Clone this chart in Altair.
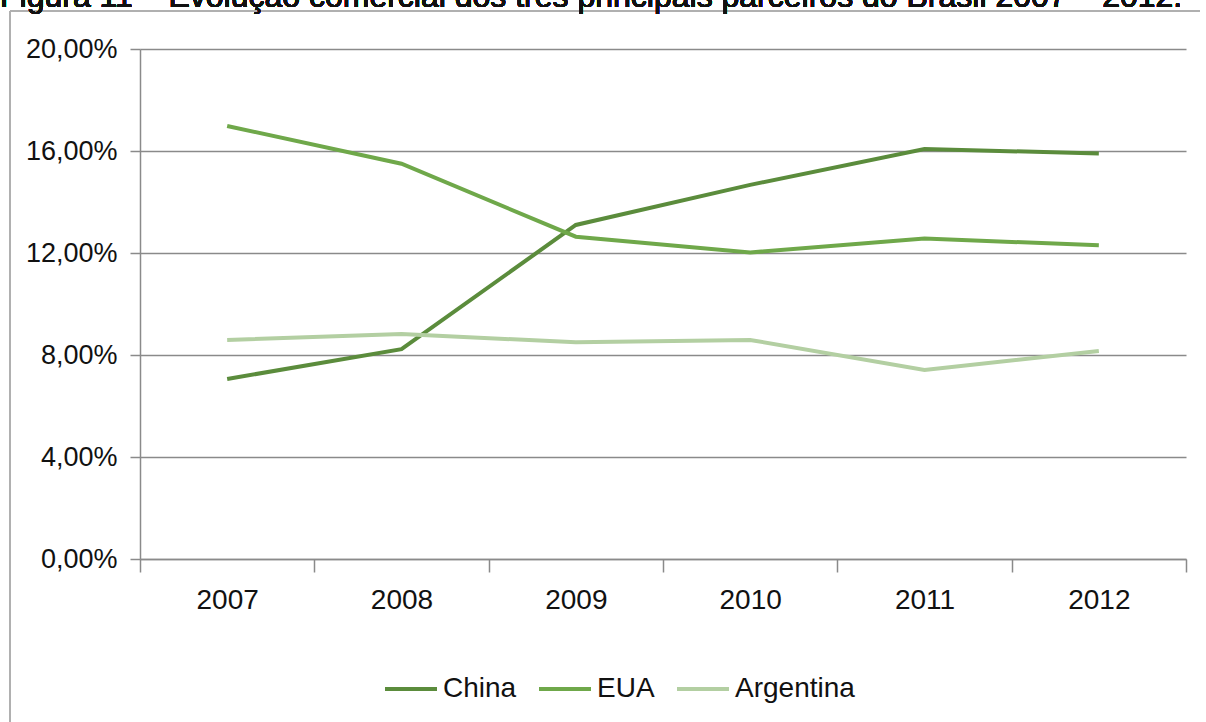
import altair as alt
import pandas as pd

years = ["2007", "2008", "2009", "2010", "2011", "2012"]
china = [0.0706, 0.0823, 0.1310, 0.1467, 0.1608, 0.1590]
eua = [0.1698, 0.1550, 0.1264, 0.1202, 0.1257, 0.1230]
argentina = [0.0859, 0.0882, 0.0850, 0.0859, 0.0741, 0.0816]
series = ["China", "EUA", "Argentina"]
colors = ["#5b8c3c", "#6fa84a", "#b3cfa2"]
y_ticks = [0, 0.04, 0.08, 0.12, 0.16, 0.20]
title_text = "Figura 11 – Evolução comercial dos três principais parceiros do Brasil 2007 – 2012."

rows = []
for name, vals in zip(series, [china, eua, argentina]):
    for yr, v in zip(years, vals):
        rows.append({"Ano": yr, "Pais": name, "Valor": v})
df = pd.DataFrame(rows)

FONT = "Liberation Sans Narrow, Arial Narrow, Liberation Sans, Arial"

lines = alt.Chart(df).mark_line(strokeWidth=4).encode(
    x=alt.X("Ano:N", sort=years, title=None,
            scale=alt.Scale(paddingInner=0, paddingOuter=0),
            axis=alt.Axis(labelAngle=0, tickBand="extent", grid=False,
                          domainColor="#8a8a8a", domainWidth=1.5,
                          tickColor="#8a8a8a", tickWidth=1.5, tickSize=13,
                          labelFont=FONT, labelFontSize=28, labelColor="#111",
                          labelPadding=14)),
    y=alt.Y("Valor:Q", title=None,
            scale=alt.Scale(domain=[0, 0.2], nice=False),
            axis=alt.Axis(values=y_ticks,
                          labelExpr="replace(format(datum.value, '.2%'), '.', ',')",
                          grid=True, gridColor="#8a8a8a", gridWidth=1.5,
                          domainColor="#8a8a8a", domainWidth=1.5,
                          tickColor="#8a8a8a", tickWidth=1.5, tickSize=10,
                          labelFont=FONT, labelFontSize=27, labelColor="#111",
                          labelPadding=13)),
    color=alt.Color("Pais:N", sort=series,
                    scale=alt.Scale(domain=series, range=colors),
                    legend=alt.Legend(title=None, orient="none", direction="horizontal",
                                      legendX=243, legendY=612,
                                      symbolType="stroke", symbolSize=2704,
                                      symbolStrokeWidth=4,
                                      labelFont=FONT, labelFontSize=28,
                                      labelColor="#111", labelOffset=4,
                                      columnPadding=14)),
)

frame_v = alt.Chart(df).mark_rule(color="#b0b0b0", strokeWidth=1.5).encode(
    x=alt.value(-130), y=alt.value(-38), y2=alt.value(700))
frame_h = alt.Chart(df).mark_rule(color="#b0b0b0", strokeWidth=1.5).encode(
    x=alt.value(-130), x2=alt.value(1060), y=alt.value(-38))
title = alt.Chart(df).mark_text(align="left", baseline="alphabetic", fontSize=32,
                                font="Liberation Sans, Arial", color="#111").encode(
    x=alt.value(-140), y=alt.value(-42), text=alt.value(title_text))

chart = alt.layer(frame_v, frame_h, lines, title).properties(
    width=1046, height=510,
    autosize=alt.AutoSizeParams(type="none"),
    padding={"left": 140, "top": 49, "right": 20, "bottom": 163},
    background="white",
).configure_view(stroke=None)

chart.save("out.html", embed_options={"renderer": "svg", "actions": False})
